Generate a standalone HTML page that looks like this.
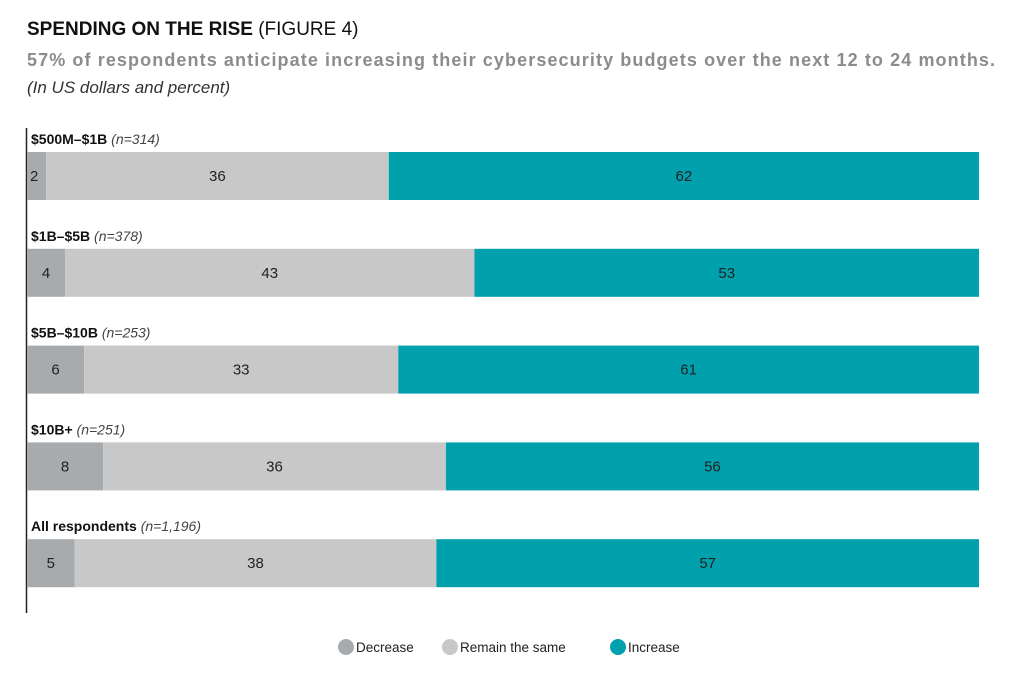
<!DOCTYPE html>
<html><head><meta charset="utf-8"><style>
body{margin:0;background:#fff;width:1010px;height:696px;overflow:hidden;font-family:"Liberation Sans",sans-serif}
.t{position:absolute;left:27px;white-space:nowrap}
</style></head><body>
<div class="t" style="top:19px;font-size:19px;font-weight:bold;color:#111">SPENDING ON THE RISE <span style="font-weight:normal">(FIGURE 4)</span></div>
<div class="t" style="top:50px;font-size:18px;font-weight:bold;color:#8a8c8e;letter-spacing:1.1px">57% of respondents anticipate increasing their cybersecurity budgets over the next 12 to 24 months.</div>
<div class="t" style="top:78px;font-size:17px;font-style:italic;color:#333">(In US dollars and percent)</div>
<svg id="chart" width="1010" height="696" style="position:absolute;left:0;top:0"></svg>
<script>
const categories=["$500M–$1B","$1B–$5B","$5B–$10B","$10B+","All respondents"];
const sampleSizes=["n=314","n=378","n=253","n=251","n=1,196"];
const decrease=[2,4,6,8,5];
const remain=[36,43,33,36,38];
const increase=[62,53,61,56,57];
const seriesNames=["Decrease","Remain the same","Increase"];
const colors=["#a8abad","#c8c8c8","#00a0ad"];
const NS="http://www.w3.org/2000/svg",svg=document.getElementById("chart");
const x0=27,w=952;
const xs=v=>v/100*w;
const yRow=i=>152+i*96.8;
const bh=48;
function mk(t,a){const e=document.createElementNS(NS,t);for(const k in a)e.setAttribute(k,a[k]);svg.appendChild(e);return e;}
const ax=mk("line",{x1:26.5,x2:26.5,y1:128,y2:613,stroke:"#222","stroke-width":1.5});


const series=[decrease,remain,increase];
categories.forEach((c,i)=>{
  const y=yRow(i);
  const lab=mk("text",{x:31,y:y-8,"font-size":14,"font-weight":"bold",fill:"#111"});
  
  
  lab.textContent=c+" ";
  const ts=document.createElementNS(NS,"tspan");ts.setAttribute("font-style","italic");ts.setAttribute("font-weight","normal");ts.setAttribute("fill","#444");ts.textContent="("+sampleSizes[i]+")";lab.appendChild(ts);
  let acc=0;
  series.forEach((s,j)=>{
    const v=s[i],x=x0+xs(acc);
    const r=mk("rect",{x:x,y:y,width:xs(v),height:bh,fill:colors[j]});
    
    
    const tx=mk("text",{x:v<3?x+3:x+xs(v)/2,y:y+bh/2+5,"font-size":15,fill:"#222","text-anchor":v<3?"start":"middle"});
    
    
    tx.textContent=v;
    acc+=v;
  });
});
const lx=[346,450,618];
seriesNames.forEach((n,j)=>{
  const c=mk("circle",{cx:lx[j],cy:647,r:8,fill:colors[j]});
  
  
  const t=mk("text",{x:lx[j]+10,y:652,"font-size":13.5,fill:"#222"});
  
  
  t.textContent=n;
});
</script>
</body></html>
